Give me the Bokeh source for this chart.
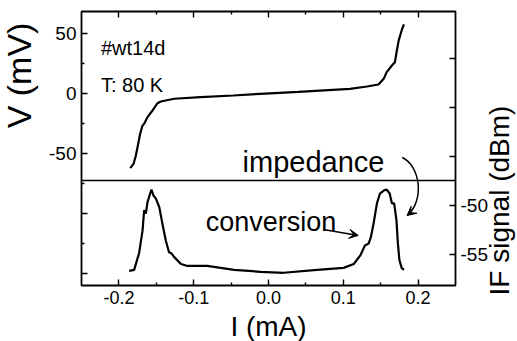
import math
from bokeh.plotting import figure
from bokeh.models import (Range1d, LinearAxis, FixedTicker, PrintfTickFormatter,
                          Label, Arrow, VeeHead, ColumnDataSource)
from bokeh.embed import file_html
from bokeh.resources import INLINE

# I-V curve of device #wt14d at 80 K (current in mA, voltage in mV)
iv_current_ma = [-0.1849, -0.1804, -0.1773, -0.1742, -0.1716, -0.1684, -0.1662,
                 -0.1618, -0.1551, -0.1484, -0.1440, -0.1260, -0.0910, -0.0470,
                 -0.0110, 0.0400, 0.1090, 0.1316, 0.1470, 0.1540, 0.1580, 0.1650,
                 0.1690, 0.1716, 0.1740, 0.1780, 0.1810]
iv_voltage_mv = [-62.2, -58.6, -51.7, -41.9, -33.6, -26.7, -25.3,
                 -19.7, -14.2, -8.1, -6.7, -4.4, -3.1, -1.7,
                 -0.3, 1.4, 3.9, 5.8, 7.5, 12.2, 17.8, 23.3,
                 26.1, 35.8, 44.0, 52.5, 57.5]

# IF output signal versus bias current (current in mA, power in dBm)
if_current_ma = [-0.1863, -0.1796, -0.1750, -0.1730, -0.1684, -0.1662, -0.1640,
                 -0.1618, -0.1582, -0.1564, -0.1538, -0.1507, -0.1460, -0.1418,
                 -0.1373, -0.1330, -0.1300, -0.1260, -0.1170, -0.1084, -0.0820,
                 -0.0460, -0.0107, 0.0204, 0.0650, 0.1004, 0.1140, 0.1230,
                 0.1290, 0.1340, 0.1370, 0.1404, 0.1450, 0.1490, 0.1540, 0.1580,
                 0.1620, 0.1650, 0.1680, 0.1710, 0.1730, 0.1750, 0.1780, 0.1810]
if_signal_dbm = [-56.7, -56.6, -55.4, -54.9, -52.6, -50.5, -50.85,
                 -49.7, -48.8, -48.4, -49.0, -49.3, -50.2, -51.9,
                 -53.6, -54.8, -54.9, -55.3, -56.0, -56.2, -56.2,
                 -56.6, -56.8, -56.9, -56.6, -56.4, -56.0, -55.1,
                 -54.1, -53.9, -53.2, -51.9, -49.8, -48.8, -48.5, -48.4,
                 -48.8, -49.8, -49.8, -51.5, -53.9, -55.6, -56.4, -56.6]

x_ticks = [-0.2, -0.1, 0.0, 0.1, 0.2]
x_minor = [-0.15, -0.05, 0.05, 0.15]
v_ticks = [50, 0, -50, -100, -150]
v_minor = [25, -25, -75, -125]
v_labeled = [50, 0, -50]
if_ticks = [-55, -50, -45, -40, -35]
if_labeled = [-55, -50]

# box of the data area in data units
X_MIN, X_MAX = -0.25, 0.25
V_MIN, V_MAX = -160.0, 68.3
IF_MIN, IF_MAX = -58.2, -30.2
V_SPLIT = -72.5

# margins around the box (pixels) -> whole canvas is the plotting frame
W, H = 517, 341
ML, MR, MT, MB = 81, 62, 11, 56
bw, bh = W - ML - MR, H - MT - MB
xs = (X_MAX - X_MIN) / bw
vs = (V_MAX - V_MIN) / bh
ifs = (IF_MAX - IF_MIN) / bh

FONT = "Liberation Sans"

p = figure(width=W, height=H, output_backend="svg", toolbar_location=None,
           x_range=Range1d(X_MIN - ML * xs, X_MAX + MR * xs),
           y_range=Range1d(V_MIN - MB * vs, V_MAX + MT * vs),
           min_border=0, x_axis_location=None, y_axis_location=None)
p.extra_y_ranges = {"if": Range1d(IF_MIN - MB * ifs, IF_MAX + MT * ifs)}
p.grid.visible = False
p.outline_line_color = None
p.background_fill_color = "white"
p.border_fill_color = "white"


def style(ax, label_size="19px"):
    ax.axis_line_color = None
    ax.major_tick_in = 6
    ax.major_tick_out = 0
    ax.minor_tick_in = 3
    ax.minor_tick_out = 0
    ax.major_tick_line_color = "black"
    ax.minor_tick_line_color = "black"
    ax.major_tick_line_width = 1.4
    ax.minor_tick_line_width = 1.4
    ax.major_label_text_font = FONT
    ax.major_label_text_font_size = label_size
    ax.major_label_text_color = "black"


bottom = LinearAxis(ticker=FixedTicker(ticks=x_ticks, minor_ticks=x_minor),
                    formatter=PrintfTickFormatter(format="%.1f"), fixed_location=V_MIN)
style(bottom, "18px")
bottom.major_label_standoff = 5
p.add_layout(bottom, "below")

top = LinearAxis(ticker=FixedTicker(ticks=x_ticks, minor_ticks=x_minor),
                 fixed_location=V_MAX)
style(top, "0px")
top.major_label_standoff = 0
p.add_layout(top, "above")

left = LinearAxis(ticker=FixedTicker(ticks=v_ticks, minor_ticks=v_minor),
                  major_label_overrides={t: (str(t) if t in v_labeled else "") for t in v_ticks},
                  fixed_location=X_MIN)
style(left)
left.major_label_standoff = 5
p.add_layout(left, "left")

right = LinearAxis(y_range_name="if", ticker=FixedTicker(ticks=if_ticks),
                   major_label_overrides={t: (str(t) if t in if_labeled else "") for t in if_ticks},
                   fixed_location=X_MAX)
style(right)
right.major_label_standoff = 5
p.add_layout(right, "right")

# frame of the data area and the boundary between the two panels
p.quad(left=[X_MIN], right=[X_MAX], bottom=[V_MIN], top=[V_MAX],
       fill_color=None, line_color="black", line_width=1.8)
p.segment(x0=[X_MIN], y0=[V_SPLIT], x1=[X_MAX], y1=[V_SPLIT],
          line_color="black", line_width=1.3)

p.line(x="i", y="v", source=ColumnDataSource(dict(i=iv_current_ma, v=iv_voltage_mv)),
       line_color="black", line_width=2.2)
p.line(x="i", y="s", source=ColumnDataSource(dict(i=if_current_ma, s=if_signal_dbm)),
       line_color="black", line_width=2.2, y_range_name="if")


def text(x, y, s, size, angle=0.0, align="left", baseline="alphabetic"):
    p.add_layout(Label(x=x, y=y, text=s, text_font=FONT, text_font_size=size,
                       text_color="black", angle=angle, text_align=align,
                       text_baseline=baseline))


text(-0.224, 37.5, "#wt14d", "20px")
text(-0.224, 6.7, "T: 80 K", "20px")
text(-0.0347, -56.7, "impedance", "29px")
text(-0.084, -106.7, "conversion", "27px")

# axis titles
text(0.0, -194.2, "I (mA)", "28px", align="center", baseline="middle")
text(-0.334, 15.0, "V (mV)", "34px", angle=math.pi / 2, align="center", baseline="middle")
text(0.309, -89.2, "IF signal (dBm)", "28px", angle=math.pi / 2, align="center", baseline="middle")

# arrows pointing from the annotations to the curves
p.add_layout(Arrow(end=VeeHead(size=9, fill_color="black", line_color="black"),
                   x_start=0.0733, y_start=-113.3, x_end=0.12, y_end=-118.3,
                   line_width=1.5, line_color="black"))
p.bezier(x0=[0.1787], y0=[-53.3], x1=[0.1853], y1=[-101.7],
         cx0=[0.2027], cy0=[-60.0], cx1=[0.2093], cy1=[-89.2],
         line_color="black", line_width=1.5)
p.add_layout(Arrow(end=VeeHead(size=9, fill_color="black", line_color="black"),
                   x_start=0.1901, y_start=-99.2, x_end=0.1853, y_end=-101.7,
                   line_width=1.5, line_color="black"))

open("out.html", "w").write(file_html(p, INLINE))
